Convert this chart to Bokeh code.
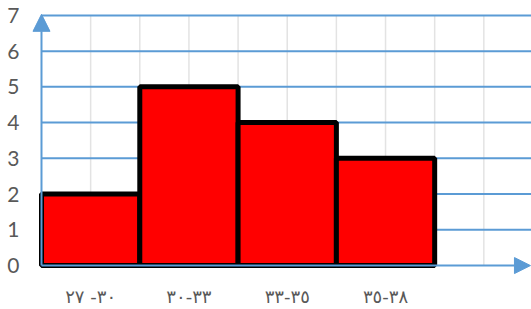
from bokeh.plotting import figure
from bokeh.models import (ColumnDataSource, FixedTicker, Arrow, NormalHead, Range1d)
from bokeh.embed import file_html
from bokeh.resources import INLINE

# ---- data ----
# (logical order chosen so that the labels display as in the reference)
categories = ["٣٠- ٢٧", "٣٣-٣٠", "٣٥-٣٣", "٣٨-٣٥"]
frequencies = [2, 5, 4, 3]
bin_left = [0, 2, 4, 6]
bin_right = [2, 4, 6, 8]
y_ticks = [0, 1, 2, 3, 4, 5, 6, 7]
x_grid = [1, 2, 3, 4, 5, 6, 7, 8, 9]

BLUE = "#5b9bd5"
GRAY_TXT = "#595959"
X_START, X_END = -0.244, 9.97
Y_START, Y_END = -0.3056, 7.4167

centers = [(a + b) / 2 for a, b in zip(bin_left, bin_right)]
src = ColumnDataSource(dict(left=bin_left, right=bin_right, top=frequencies,
                            bottom=[0] * len(frequencies)))
vgrid_src = ColumnDataSource(dict(x=x_grid, y0=[min(y_ticks)] * len(x_grid),
                                  y1=[max(y_ticks)] * len(x_grid)))
hgrid_src = ColumnDataSource(dict(y=y_ticks[1:], x0=[0] * (len(y_ticks) - 1),
                                  x1=[X_END] * (len(y_ticks) - 1)))

p = figure(width=531, height=309, output_backend="svg", toolbar_location=None,
           x_range=Range1d(X_START, X_END), y_range=Range1d(Y_START, Y_END),
           min_border_left=29, min_border_right=0, min_border_top=0,
           min_border_bottom=31)
p.outline_line_color = None
p.background_fill_color = "white"
p.border_fill_color = "white"
p.xgrid.grid_line_color = None
p.ygrid.grid_line_color = None

# grid lines (vertical light gray, horizontal blue), only right of the axis
p.segment(x0="x", x1="x", y0="y0", y1="y1", source=vgrid_src,
          line_color="#e3e3e3", line_width=1.5, level="image")
p.segment(x0="x0", x1="x1", y0="y", y1="y", source=hgrid_src,
          line_color=BLUE, line_width=2, level="underlay")

# bars
p.quad(left="left", right="right", top="top", bottom="bottom", source=src,
       fill_color="#ff0000", line_color="black", line_width=5)

# axes
p.yaxis.ticker = FixedTicker(ticks=y_ticks)
p.yaxis.axis_line_color = None
p.yaxis.major_tick_line_color = None
p.yaxis.minor_tick_line_color = None
p.yaxis.major_tick_out = 0
p.yaxis.major_tick_in = 0
p.yaxis.minor_tick_out = 0
p.yaxis.major_label_text_font = "Lato"
p.yaxis.major_label_text_font_size = "21px"
p.yaxis.major_label_text_color = GRAY_TXT
p.yaxis.major_label_standoff = 10

p.xaxis.ticker = FixedTicker(ticks=centers)
p.xaxis.major_label_overrides = {c: lab for c, lab in zip(centers, categories)}
p.xaxis.axis_line_color = None
p.xaxis.major_tick_line_color = None
p.xaxis.minor_tick_line_color = None
p.xaxis.major_tick_out = 0
p.xaxis.major_tick_in = 0
p.xaxis.minor_tick_out = 0
p.xaxis.major_label_text_font = "DejaVu Sans"
p.xaxis.major_label_text_font_size = "18px"
p.xaxis.major_label_text_color = GRAY_TXT
p.xaxis.major_label_standoff = 9

# axis arrows
p.add_layout(Arrow(x_start=0, y_start=0, x_end=9.949, y_end=0,
                   line_color=BLUE, line_width=2,
                   end=NormalHead(size=16, fill_color=BLUE, line_color=BLUE)))
p.add_layout(Arrow(x_start=0, y_start=0, x_end=0, y_end=7.03,
                   line_color=BLUE, line_width=2,
                   end=NormalHead(size=17, fill_color=BLUE, line_color=BLUE)))

open("out.html", "w").write(file_html(p, INLINE))
